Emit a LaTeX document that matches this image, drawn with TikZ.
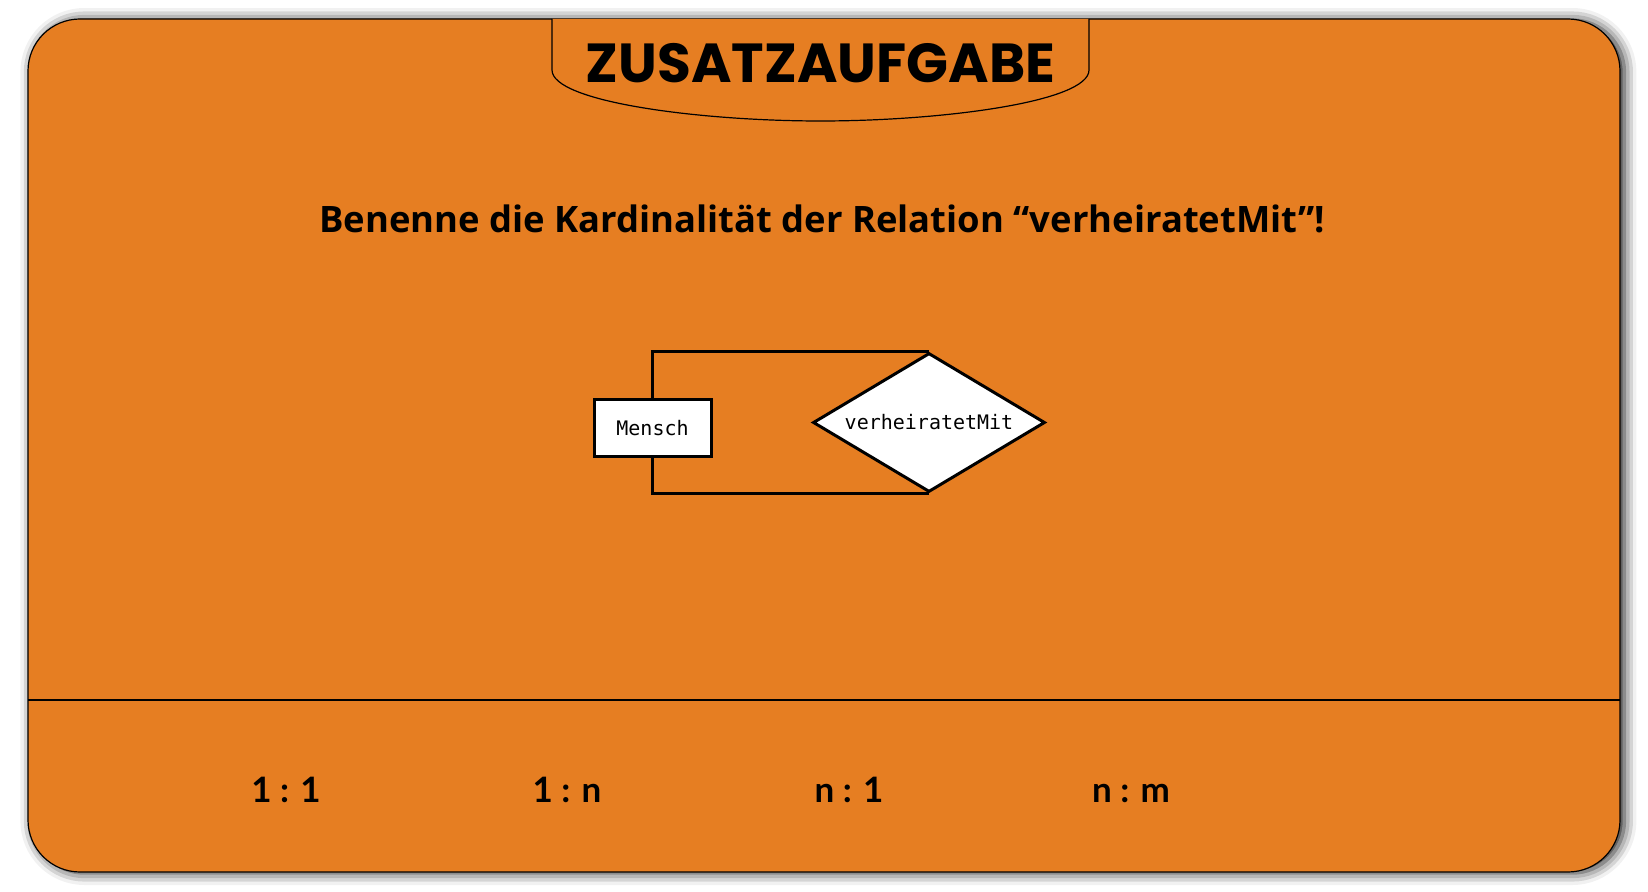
\documentclass[tikz,border=0pt]{standalone}
\usepackage{fontspec}
\setmainfont{Lato}
\newfontfamily\titlefont{Poppins}
\newfontfamily\questfont{Open Sans}
\newfontfamily\monofont{DejaVu Sans Mono}
\usepackage{xcolor}
\usetikzlibrary{shapes.geometric, shadows.blur}
\definecolor{cardOrange}{RGB}{230,126,34}

\begin{document}
\begin{tikzpicture}[x=0.5pt, y=-0.5pt,
    card/.style={draw=black, line width=0.6pt, fill=cardOrange, rounded corners=26pt},
    entity/.style={draw=black, line width=1.5pt, fill=white,
                minimum width=58.5pt, minimum height=28.5pt, inner sep=0pt,
                font=\monofont\fontsize{10}{12}\selectfont},
    relship/.style={diamond, draw=black, line width=1.5pt, fill=white, aspect=1.67,
                minimum width=116pt, minimum height=69.5pt, inner sep=0pt,
                font=\monofont\fontsize{10}{12}\selectfont},
    answer/.style={anchor=base, font=\bfseries\fontsize{17.5}{21}\selectfont}
  ]
    \useasboundingbox (0,0) rectangle (1648,892);
    \path[card, blur shadow={shadow xshift=2.2pt, shadow yshift=-0.5pt,
          shadow blur radius=6pt, shadow opacity=90}] (28,19) rectangle (1620,872);

    % title tab
    \draw[line width=0.6pt, fill=cardOrange] (552,19) -- (552,70)
      .. controls (552,102) and (700,121) .. (820.5,121)
      .. controls (941,121) and (1089,102) .. (1089,70) -- (1089,19);
    \node[anchor=base, font=\titlefont\bfseries\fontsize{27.5}{30}\selectfont] (title) at (820.5,83) {ZUSATZAUFGABE};

    \node[anchor=base, font=\questfont\bfseries\fontsize{18.2}{22}\selectfont] (question) at (822,233)
      {Benenne die Kardinalität der Relation “verheiratetMit”!};

    \node[entity] (mensch) at (652.5,428.5) {Mensch};
    \node[relship] (rel) at (929,422.5) {verheiratetMit};

    \draw[line width=1.5pt] (mensch.north) |- (rel.north);
    \draw[line width=1.5pt] (mensch.south) |- (rel.south);

    % answers
    \draw[line width=0.6pt] (28,700) -- (1620,700);
    \node[answer] (ans1) at (286,802) {1 : 1};
    \node[answer] (ans2) at (567,802) {1 : n};
    \node[answer] (ans3) at (849,802) {n : 1};
    \node[answer] (ans4) at (1131,802) {n : m};
  \end{tikzpicture}
\end{document}
